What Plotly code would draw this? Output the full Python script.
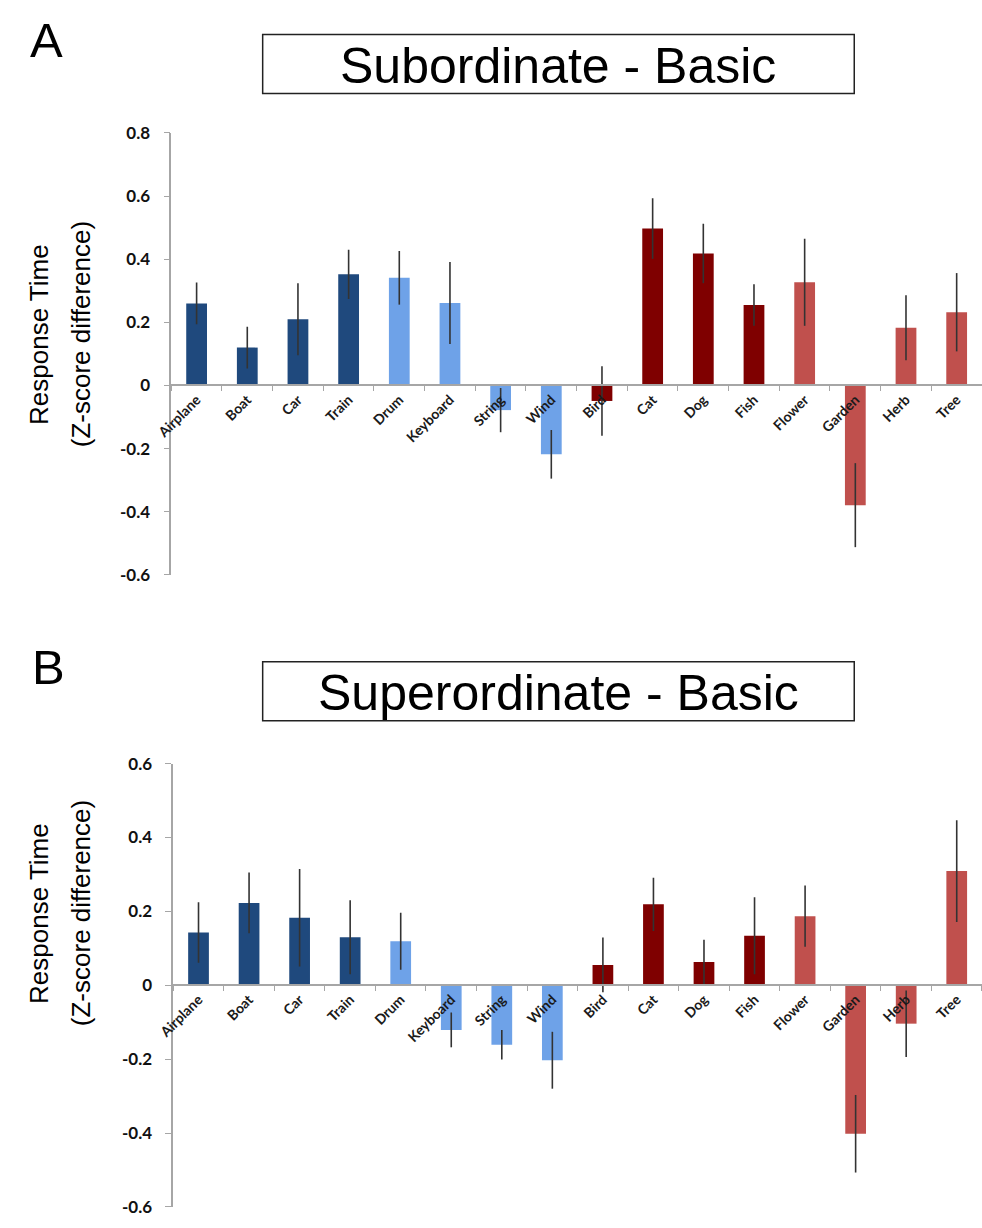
import plotly.graph_objects as go

# ---------------- data ----------------
categories = ["Airplane", "Boat", "Car", "Train", "Drum", "Keyboard", "String", "Wind",
              "Bird", "Cat", "Dog", "Fish", "Flower", "Garden", "Herb", "Tree"]
groups = ["vehicle"] * 4 + ["instrument"] * 4 + ["animal"] * 4 + ["plant"] * 4

sub_values = [0.260, 0.120, 0.210, 0.352, 0.341, 0.261, -0.078, -0.218,
              -0.049, 0.497, 0.418, 0.255, 0.327, -0.379, 0.183, 0.232]
sub_errors = [0.066, 0.066, 0.114, 0.078, 0.085, 0.130, 0.070, 0.077,
              0.110, 0.096, 0.094, 0.066, 0.138, 0.133, 0.103, 0.124]

sup_values = [0.143, 0.223, 0.183, 0.130, 0.119, -0.121, -0.161, -0.203,
              0.055, 0.219, 0.063, 0.134, 0.187, -0.402, -0.104, 0.309]
sup_errors = [0.082, 0.082, 0.132, 0.100, 0.077, 0.047, 0.040, 0.077,
              0.074, 0.072, 0.060, 0.104, 0.083, 0.105, 0.090, 0.138]

sub_ticks = [-0.6, -0.4, -0.2, 0, 0.2, 0.4, 0.6, 0.8]
sub_ticktext = ["-0.6", "-0.4", "-0.2", "0", "0.2", "0.4", "0.6", "0.8"]
sup_ticks = [-0.6, -0.4, -0.2, 0, 0.2, 0.4, 0.6]
sup_ticktext = ["-0.6", "-0.4", "-0.2", "0", "0.2", "0.4", "0.6"]

panel_titles = ["Subordinate - Basic", "Superordinate - Basic"]
panel_letters = ["A", "B"]
y_title_lines = ["Response Time", "(Z-score difference)"]

# ---------------- style ----------------
W, H = 982, 1228
group_colors = {"vehicle": "#1F497D", "instrument": "#6EA2E8",
                "animal": "#7F0000", "plant": "#C0504D"}
bar_colors = [group_colors[g] for g in groups]
AXIS = "#A6A6A6"
TICKFONT = dict(family="Lato, Open Sans, sans-serif", size=17, color="#111111", weight="bold")
CATFONT = dict(family="Lato, Open Sans, sans-serif", size=14, color="#1a1a1a", weight="bold")
SANS = "Liberation Sans, Arial, Helvetica, sans-serif"


def py(px):
    return 1 - px / H


def px_x(px):
    return px / W


panels = [
    dict(values=sub_values, errors=sub_errors, ticks=sub_ticks, ticktext=sub_ticktext,
         top=124, bottom=573.75, left=157, box=(250, 24, 852, 84),
         letter_xy=(11, 30), ytitle_c=329),
    dict(values=sup_values, errors=sup_errors, ticks=sup_ticks, ticktext=sup_ticktext,
         top=765.7, bottom=1216.7, left=159, box=(250, 662, 852, 722),
         letter_xy=(13, 667), ytitle_c=918),
]

fig = go.Figure()
layout = dict(width=W, height=H, margin=dict(l=0, r=0, t=0, b=0),
              paper_bgcolor="white", plot_bgcolor="white", showlegend=False,
              bargap=0.59, shapes=[], annotations=[])

for i, p in enumerate(panels):
    sfx = "" if i == 0 else str(i + 1)
    xa, ya = "x" + sfx, "y" + sfx
    fig.add_trace(go.Bar(
        x=categories, y=p["values"], xaxis=xa, yaxis=ya,
        marker=dict(color=bar_colors, line=dict(width=0)),
        error_y=dict(type="data", array=p["errors"], visible=True,
                     color="#333333", thickness=1.6, width=0),
        hoverinfo="x+y",
    ))
    ymin, ymax = min(p["ticks"]), max(p["ticks"])
    d0, d1 = py(p["bottom"]), py(p["top"])
    zero_pos = d0 + (0 - ymin) / (ymax - ymin) * (d1 - d0)
    layout["xaxis" + sfx] = dict(
        domain=[px_x(p["left"]), 1.0], anchor="free", position=zero_pos,
        type="category", range=[-0.5, len(categories) - 0.5],
        showline=True, linecolor=AXIS, linewidth=1.5,
        ticks="outside", tickson="boundaries", ticklen=5, tickcolor=AXIS, tickwidth=1.2,
        tickangle=-45, tickfont=CATFONT, showgrid=False, zeroline=False, fixedrange=True,
    )
    layout["yaxis" + sfx] = dict(
        domain=[d0, d1], anchor=xa, range=[ymin, ymax],
        tickvals=p["ticks"], ticktext=p["ticktext"],
        showline=True, linecolor=AXIS, linewidth=1.5,
        ticks="outside", ticklen=6, tickcolor=AXIS, tickwidth=1.2,
        ticklabelstandoff=10, tickfont=TICKFONT,
        showgrid=False, zeroline=False, fixedrange=True,
    )
    # title box
    x0, y0, x1, y1 = p["box"]
    layout["shapes"].append(dict(type="rect", xref="paper", yref="paper",
                                 x0=px_x(x0), x1=px_x(x1), y0=py(y1), y1=py(y0),
                                 line=dict(color="#222222", width=1.5), fillcolor="white"))
    layout["annotations"].append(dict(
        text=panel_titles[i], xref="paper", yref="paper",
        x=px_x((x0 + x1) / 2), y=py((y0 + y1) / 2 + 2), xanchor="center", yanchor="middle",
        showarrow=False, font=dict(family=SANS, size=50, color="black")))
    # panel letter
    lx, ly = p["letter_xy"]
    layout["annotations"].append(dict(
        text=panel_letters[i], xref="paper", yref="paper",
        x=px_x(lx), y=py(ly), xanchor="left", yanchor="middle",
        showarrow=False, font=dict(family=SANS, size=49, color="black")))
    # y-axis title (two lines)
    for j, (line, cx) in enumerate(zip(y_title_lines, [23, 65])):
        layout["annotations"].append(dict(
            text=line, xref="paper", yref="paper",
            x=px_x(cx), y=py(p["ytitle_c"]), xanchor="center", yanchor="middle",
            textangle=-90, showarrow=False,
            font=dict(family=SANS, size=26, color="black")))

fig.update_layout(**layout)
fig.write_html("out.html", config={"displayModeBar": False},
               post_script="document.body.style.margin='0';document.body.style.overflow='hidden';")
